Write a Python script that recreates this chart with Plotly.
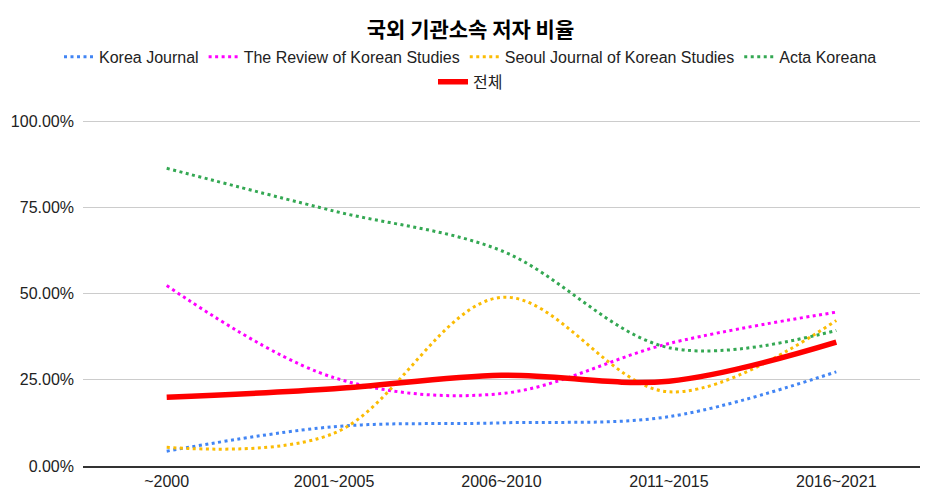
import plotly.graph_objects as go

categories = ["~2000", "2001~2005", "2006~2010", "2011~2015", "2016~2021"]
korea_journal = [0.043, 0.114, 0.125, 0.143, 0.273]
review_korean = [0.523, 0.256, 0.210, 0.355, 0.446]
seoul_journal = [0.054, 0.095, 0.489, 0.215, 0.422]
acta_koreana = [0.863, 0.739, 0.624, 0.343, 0.393]
total = [0.199, 0.224, 0.263, 0.246, 0.359]
tick_vals = [0, 0.25, 0.5, 0.75, 1.0]

series = [
    ("Korea Journal", korea_journal, "#4285F4", "3px,3.5px", 3, "legend"),
    ("The Review of Korean Studies", review_korean, "#FF00FF", "3px,3.5px", 3, "legend"),
    ("Seoul Journal of Korean Studies", seoul_journal, "#FBBC04", "3px,3.5px", 3, "legend"),
    ("Acta Koreana", acta_koreana, "#34A853", "3px,3.5px", 3, "legend"),
    ("전체", total, "#FF0000", "solid", 5.5, "legend2"),
]

fig = go.Figure()
for name, vals, color, dash, w, lg in series:
    fig.add_trace(go.Scatter(
        x=categories, y=vals, name=name, mode="lines", legend=lg,
        line=dict(color=color, dash=dash, width=w, shape="spline", smoothing=1.0),
    ))

legend_font = dict(family="Liberation Sans, Arial, Noto Sans CJK KR", size=16, color="#222222")

# page body has an 8px margin, so the figure is sized to fit the 933x497 window
fig.update_layout(
    width=925, height=489,
    margin=dict(l=75, r=13, t=112, b=31, autoexpand=False),
    paper_bgcolor="white", plot_bgcolor="white",
    font=dict(family="Liberation Sans, Arial, Noto Sans CJK KR", size=16, color="#222222"),
    title=dict(text="<b>국외 기관소속 저자 비율</b>", x=0.5, xanchor="center", y=0.956, yanchor="middle",
               font=dict(family="Noto Sans CJK KR, Liberation Sans", size=21, color="#000000")),
    legend=dict(orientation="h", xref="container", x=0.5, xanchor="center",
                yref="container", y=0.900, yanchor="middle",
                font=legend_font, itemwidth=30, bgcolor="rgba(0,0,0,0)"),
    legend2=dict(orientation="h", xref="container", x=0.5, xanchor="center",
                 yref="container", y=0.849, yanchor="middle",
                 font=legend_font, itemwidth=30, bgcolor="rgba(0,0,0,0)"),
    xaxis=dict(showgrid=False, showline=True, linecolor="#333333", linewidth=1.5,
               range=[-0.5, 4.5], ticks="", tickfont=dict(size=16, color="#222222")),
    yaxis=dict(range=[0, 1.003], tickvals=tick_vals, tickformat=".2%",
               showgrid=True, gridcolor="#CCCCCC", gridwidth=1, zeroline=False,
               tickfont=dict(size=16, color="#222222"), ticks="", ticklabelstandoff=8),
    showlegend=True,
)

fig.write_html("out.html")
